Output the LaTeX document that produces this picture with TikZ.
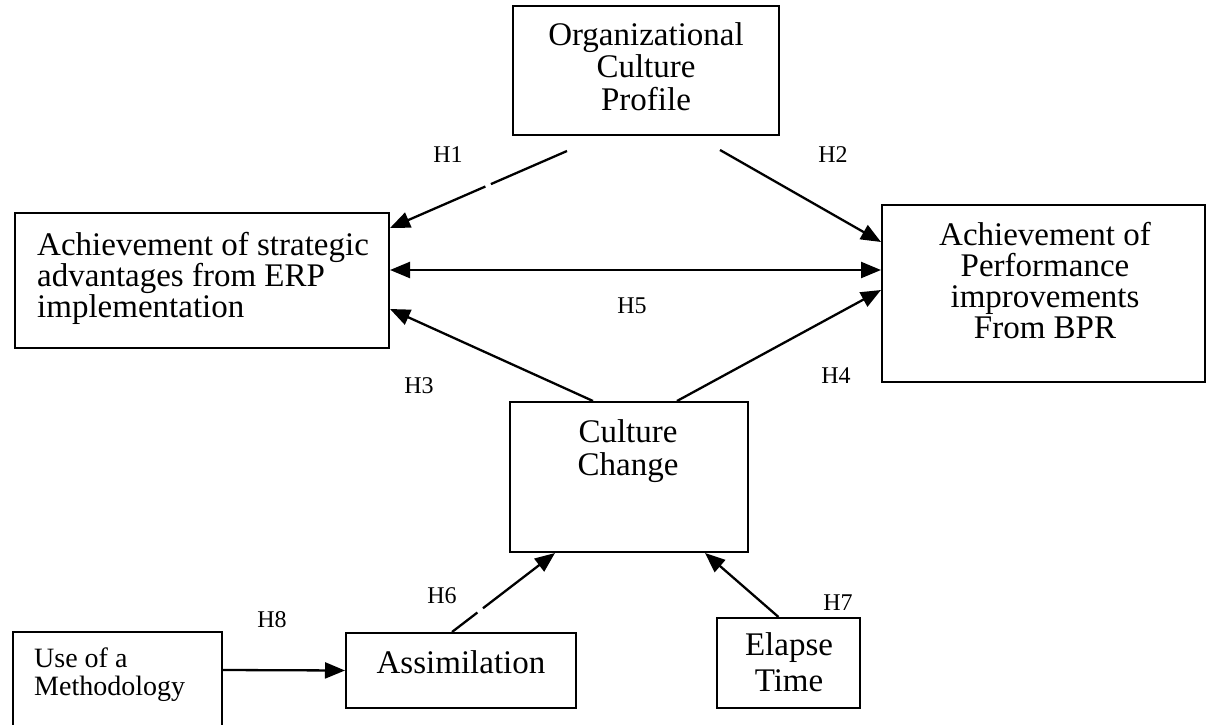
\documentclass[tikz,border=0pt]{standalone}
\usepackage{fontspec}
\setmainfont{Liberation Serif}
\usetikzlibrary{arrows.meta}
\begin{document}
\begin{tikzpicture}[x=1pt,y=-1pt,
  box/.style={draw, line width=2pt, rectangle, inner sep=0pt},
  txt/.style={inner sep=0pt, font=\fontsize{33}{31}\selectfont},
  small/.style={inner sep=0pt, font=\fontsize{28}{28}\selectfont},
  hlab/.style={inner sep=0pt, font=\fontsize{24}{24}\selectfont},
  arr/.style={line width=2.3pt, -{Triangle[length=20pt,width=16pt]}},
  darr/.style={line width=2.3pt, {Triangle[length=20pt,width=16pt]}-{Triangle[length=20pt,width=16pt]}},
  ]
\useasboundingbox (0,0) rectangle (1208,725);
\clip (0,0) rectangle (1208,725);
\fill[white] (0,0) rectangle (1208,725);
% boxes
\node[box, minimum width=266pt, minimum height=129pt] (org) at (646,70.5) {};
\node[box, minimum width=374pt, minimum height=135pt] (strat) at (202,280.5) {};
\node[box, minimum width=323pt, minimum height=177pt] (perf) at (1043.5,293.5) {};
\node[box, minimum width=238pt, minimum height=150pt] (cc) at (629,477) {};
\node[box, minimum width=209pt, minimum height=118pt] (meth) at (117.5,691) {};
\node[box, minimum width=230pt, minimum height=75pt] (assim) at (461,670.5) {};
\node[box, minimum width=143pt, minimum height=90pt] (elapse) at (788.5,663) {};
% texts
\node[txt, anchor=north, align=center, font=\fontsize{33}{32.5}\selectfont] (orgt) at (646,22) {Organizational\\Culture\\Profile};
\node[txt, anchor=north west, align=left, font=\fontsize{33}{30}\selectfont] (stratt) at (37,232) {Achievement of strategic\\advantages from ERP\\implementation};
\node[txt, anchor=north, align=center] (perft) at (1045,222) {Achievement of\\Performance\\improvements\\From BPR};
\node[txt, anchor=north, align=center, font=\fontsize{33}{33}\selectfont] (cct) at (628,419) {Culture\\Change};
\node[small, anchor=north west, align=left] (metht) at (34,648) {Use of a\\Methodology};
\node[txt, anchor=north, align=center] (assimt) at (461,650) {Assimilation};
\node[txt, anchor=north, align=center, font=\fontsize{33}{36}\selectfont] (elapset) at (789,632) {Elapse\\Time};
% labels
\node[hlab] (l1) at (448,155) {H1};
\node[hlab] (l2) at (833,155) {H2};
\node[hlab] (l5) at (632,306) {H5};
\node[hlab] (l3) at (419,386) {H3};
\node[hlab] (l4) at (836,376) {H4};
\node[hlab] (l6) at (442,596) {H6};
\node[hlab] (l7) at (838,603) {H7};
\node[hlab] (l8) at (272,620) {H8};
% free starts
\coordinate (s1) at (567,151);
\coordinate (s2) at (720,150);
% connectors
\draw[arr, dash pattern=on 83pt off 6pt on 400pt] (s1) -- ([yshift=52.5pt]strat.east);
\draw[arr] (s2) -- ([yshift=51.5pt]perf.west);
\draw[darr] ([yshift=10.5pt]strat.east) -- ([yshift=23.5pt]perf.west);
\draw[arr] ([xshift=-36pt]cc.north) -- ([yshift=-28.5pt]strat.east);
\draw[arr] ([xshift=48pt]cc.north) -- ([yshift=3.5pt]perf.west);
\draw[arr, dash pattern=on 32pt off 7pt on 400pt] ([xshift=-9pt]assim.north) -- ([xshift=-74pt]cc.south);
\draw[arr] ([xshift=-10pt]elapse.north) -- ([xshift=76pt]cc.south);
\draw[arr] ([yshift=21pt]meth.east) -- (assim.west);
\end{tikzpicture}
\end{document}
